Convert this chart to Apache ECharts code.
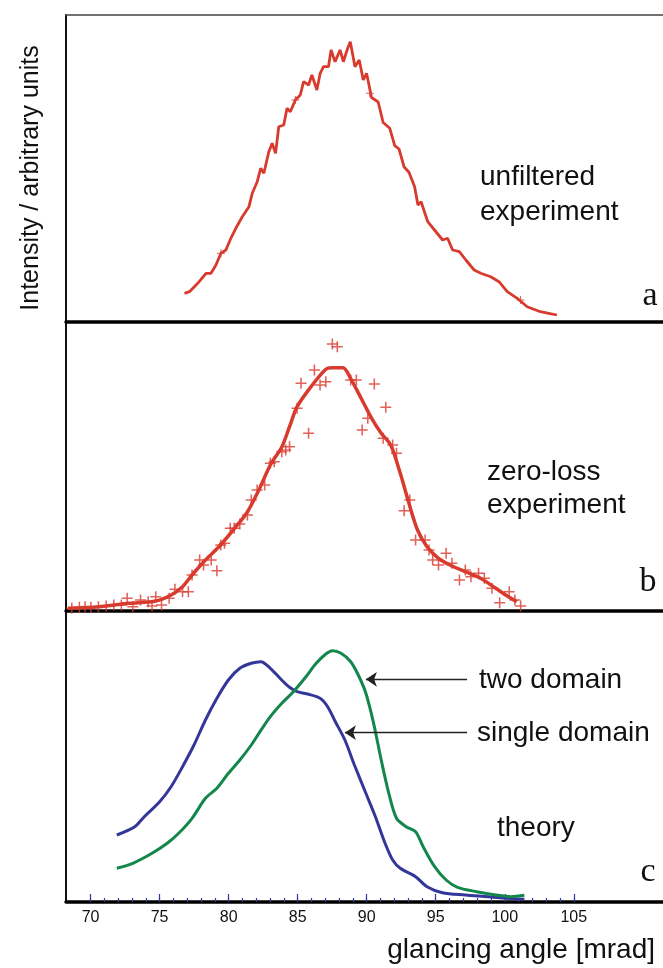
<!DOCTYPE html>
<html>
<head>
<meta charset="utf-8">
<script src="https://cdn.jsdelivr.net/npm/echarts@6/dist/echarts.min.js"></script>
<style>
html,body{margin:0;padding:0;background:#fff;}
#chart{width:663px;height:968px;}
</style>
</head>
<body>
<div id="chart"></div>
<script>
//面板a 未滤波实验
var aAngle = [76.80,77.16,77.76,78.36,78.72,79.08,79.44,79.80,80.16,80.52,80.99,81.47,81.71,82.07,82.32,82.55,82.91,83.15,83.40,83.63,83.99,84.23,84.47,84.83,85.19,85.43,85.79,86.03,86.39,86.63,86.87,87.23,87.42,87.71,88.07,88.31,88.62,88.81,89.15,89.46,89.75,89.99,90.35,90.83,91.19,91.67,92.03,92.34,92.70,93.06,93.47,93.71,93.94,94.42,94.91,95.50,95.86,96.22,96.71,97.18,97.78,98.26,98.98,99.58,100.18,100.90,101.62,102.58,103.18,103.78];
var aIntensity = [28.7,30.3,38.7,48.7,48.7,57,68.7,72,83.7,93.7,105.3,115.3,128.7,140.3,153.7,148.7,170.3,178.7,168.7,195.3,197,213.7,210.3,222,227,240.3,237,247,232,248.7,255.3,255.3,272,260.3,272,260.3,273.7,280.3,255.3,262,242,248.7,224.5,220,199.5,193.7,176.3,173,155.3,149.7,135.3,117,120.3,100.3,92,82,83.7,72,70.3,62,52,48.7,45.3,40.3,30.3,23.7,15.3,10.3,8.7,7];
var aMarkAngle = [79.44,84.83,90.23,101.14];
var aMarkIntensity = [68.7,222,228.7,22];
//面板b 零损失实验
var bLineAngle = [68.36,70.58,72.78,74.73,75.83,76.66,77.35,78.32,79.42,80.53,81.37,82.19,83.02,83.86,84.41,84.96,86.06,87.04,87.45,88.28,88.83,89.66,90.36,91.05,91.74,92.43,92.99,93.68,94.37,95.20,96.03,97.14,98.24,99.35,100.18,100.87];
var bLineIntensity = [2.7,4.3,7.7,10,16,24.3,36,51,66,84.3,99.3,121,146,164.3,184.3,204.3,226,241.7,243.3,243.3,232.7,211,192.7,177.7,166,137.7,111,81,64.3,52.7,46,39.3,32.7,22.7,15,9.3];
var bPointAngle = [68.64,69.19,69.60,70.02,70.57,71.13,71.68,72.23,72.65,73.06,73.62,74.17,74.45,74.72,75.14,75.69,76.11,76.66,77.08,77.35,77.90,78.18,78.74,79.15,79.43,79.70,80.12,80.40,80.81,81.36,81.64,82.06,82.61,83.02,83.30,83.85,84.13,84.41,84.96,85.24,85.79,86.21,86.62,87.04,87.51,87.87,88.84,89.25,89.67,90.08,90.55,91.19,91.38,91.88,92.16,92.71,93.12,93.54,94.23,94.51,94.78,95.20,95.75,96.17,96.72,97.14,97.55,98.10,98.52,99.07,99.63,100.32,100.73,101.15];
var bPointIntensity = [2.7,3.7,4.3,3.7,4.3,5,6,6,12.7,4.3,11,9.3,5,14.3,6,12.7,21.7,19.3,19.3,36,51,46,51,40.3,66,67.7,82.7,82.7,87,96,111,121,126,147.7,149.3,159.3,161,164.3,202.7,227.7,177.7,241,226,229.3,267,264.3,231,231,181,192.7,227,172.7,203.7,166,157.7,100.3,111,71,71,61,51,46,57.7,47.7,31,41,34.3,37.7,32.7,22.7,8.3,19.3,11,5];
//面板c 理论
var singleAngle = [71.90,73.20,73.89,75.00,75.83,76.66,77.49,78.32,79.15,79.98,80.81,81.64,82.33,83.02,83.72,84.41,84.96,85.79,86.62,87.17,87.73,88.42,89.11,89.94,90.63,91.33,91.88,92.43,93.54,94.37,95.48,97.14,98.80,100.18,101.42];
var singleIntensity = [67,75.3,85.3,100.3,115.3,135.3,157,182,203.7,222,233.7,238.7,240.3,233.7,223.7,214.7,210.3,207.7,203.7,195.3,180.3,162,137,108.7,85.3,58.7,42,33.7,25.3,15.3,9.3,7,5.3,3.7,2.7];
var twoAngle = [71.90,73.06,74.45,75.55,76.38,77.35,78.32,79.15,79.98,80.81,81.64,82.19,83.02,83.85,84.69,85.51,86.34,87.04,87.51,88.14,88.84,89.39,89.94,90.50,91.05,91.60,92.16,92.85,93.54,94.09,94.92,95.75,96.58,97.97,99.35,100.46,101.42];
var twoIntensity = [33.7,38.7,48.7,58.7,68.7,83.7,103.7,113.7,128.7,142,157,168.7,185.3,198.7,210.3,223.7,238.7,248,251.3,248.7,240.3,227,208.7,178.7,142,108.7,83.7,75.3,70.3,55.3,35.3,22,14.7,10.3,7,5.3,6.7];
//刻度
var majorTicks = [70,75,80,85,90,95,100,105];
var minorTicks = [70,71,72,73,74,75,76,77,78,79,80,81,82,83,84,85,86,87,88,89,90,91,92,93,94,95,96,97,98,99,100,101,102,103,104,105];

var RED = '#d83a2e', BLUE = '#34379a', GREEN = '#13874b';
var SANS = '"Liberation Sans", Arial, sans-serif';
var SERIF = '"Liberation Serif", "Times New Roman", serif';
var PLUS = 'path://M4.3,0H5.7V10H4.3Z M0,4.3H10V5.7H0Z';
var X_MIN = 68.22, X_MAX = 111.46;

function zip(xs, ys) {
    var out = [];
    for (var i = 0; i < xs.length; i++) {
        out.push([xs[i], ys[i]]);
    }
    return out;
}

function plainX(grid, pos, lineWidth, color) {
    return {
        type: 'value', gridIndex: grid, position: pos, min: X_MIN, max: X_MAX,
        axisLine: {show: true, onZero: false, lineStyle: {color: color, width: lineWidth}},
        axisTick: {show: false}, axisLabel: {show: false}, splitLine: {show: false}
    };
}

function plainY(grid, max) {
    return {
        type: 'value', gridIndex: grid, min: 0, max: max,
        axisLine: {show: true, lineStyle: {color: '#111', width: 2}},
        axisTick: {show: false}, axisLabel: {show: false}, splitLine: {show: false}
    };
}

function txt(x, y, s, size, font, align) {
    return {
        type: 'text', x: x, y: y,
        style: {text: s, fill: '#111', font: size + 'px ' + font, textAlign: align || 'left', textVerticalAlign: 'middle'}
    };
}

var chart = echarts.init(document.getElementById('chart'));
var option = {
    backgroundColor: '#fff',
    animation: false,
    grid: [
        {left: 66, right: -4, top: 15, height: 307},
        {left: 66, right: -4, top: 322, height: 289},
        {left: 66, right: -4, top: 611, height: 291}
    ],
    xAxis: [
        plainX(0, 'bottom', 3.5, '#000'),
        plainX(0, 'top', 1.5, '#444'),
        plainX(1, 'bottom', 3.5, '#000'),
        {
            type: 'value', gridIndex: 2, position: 'bottom', min: X_MIN, max: X_MAX,
            axisLine: {show: true, onZero: false, lineStyle: {color: '#000', width: 3.5}},
            axisTick: {show: true, inside: true, length: 8, customValues: majorTicks, lineStyle: {color: BLUE, width: 1.2}},
            axisLabel: {show: true, customValues: majorTicks, margin: 8, fontSize: 16, color: '#111', fontFamily: SANS},
            splitLine: {show: false}
        },
        {
            type: 'value', gridIndex: 2, position: 'bottom', min: X_MIN, max: X_MAX,
            axisLine: {show: false},
            axisTick: {show: true, inside: true, length: 4, customValues: minorTicks, lineStyle: {color: BLUE, width: 1.2}},
            axisLabel: {show: false}, splitLine: {show: false}
        }
    ],
    yAxis: [plainY(0, 307), plainY(1, 289), plainY(2, 291)],
    series: [
        {
            name: 'unfiltered', type: 'line', xAxisIndex: 0, yAxisIndex: 0,
            data: zip(aAngle, aIntensity), showSymbol: false,
            lineStyle: {color: RED, width: 2.8}
        },
        {
            name: 'unfiltered marks', type: 'scatter', xAxisIndex: 0, yAxisIndex: 0,
            data: zip(aMarkAngle, aMarkIntensity), symbol: PLUS, symbolSize: 8,
            itemStyle: {color: RED}
        },
        {
            name: 'zero-loss fit', type: 'line', xAxisIndex: 2, yAxisIndex: 1,
            data: zip(bLineAngle, bLineIntensity), showSymbol: false, smooth: 0.3,
            lineStyle: {color: RED, width: 3.5}
        },
        {
            name: 'zero-loss', type: 'scatter', xAxisIndex: 2, yAxisIndex: 1,
            data: zip(bPointAngle, bPointIntensity), symbol: PLUS, symbolSize: 11,
            itemStyle: {color: RED}
        },
        {
            name: 'single domain', type: 'line', xAxisIndex: 3, yAxisIndex: 2,
            data: zip(singleAngle, singleIntensity), showSymbol: false, smooth: 0.3,
            lineStyle: {color: BLUE, width: 3},
            markLine: {
                silent: true, symbol: ['none', 'arrow'], symbolSize: 11,
                label: {show: false},
                lineStyle: {color: '#222', width: 1.3, type: 'solid'},
                data: [[{coord: [97.27, 169.3]}, {coord: [88.42, 169.3]}]]
            }
        },
        {
            name: 'two domain', type: 'line', xAxisIndex: 3, yAxisIndex: 2,
            data: zip(twoAngle, twoIntensity), showSymbol: false, smooth: 0.3,
            lineStyle: {color: GREEN, width: 3},
            markLine: {
                silent: true, symbol: ['none', 'arrow'], symbolSize: 11,
                label: {show: false},
                lineStyle: {color: '#222', width: 1.3, type: 'solid'},
                data: [[{coord: [97.27, 222.7]}, {coord: [89.94, 222.7]}]]
            }
        }
    ],
    graphic: [
        {
            type: 'text', x: 31, y: 178, rotation: Math.PI / 2,
            style: {text: 'Intensity / arbitrary units', fill: '#111', font: '25px ' + SANS, textAlign: 'center', textVerticalAlign: 'middle'}
        },
        txt(655, 950, 'glancing angle [mrad]', 28, SANS, 'right'),
        txt(480, 177, 'unfiltered', 28, SANS),
        txt(480, 212, 'experiment', 28, SANS),
        txt(487, 472, 'zero-loss', 28, SANS),
        txt(487, 505, 'experiment', 28, SANS),
        txt(479, 680, 'two domain', 28, SANS),
        txt(477, 733, 'single domain', 28, SANS),
        txt(497, 828, 'theory', 28, SANS),
        txt(650, 296, 'a', 34, SERIF, 'center'),
        txt(648, 582, 'b', 34, SERIF, 'center'),
        txt(648, 872, 'c', 34, SERIF, 'center')
    ]
};
chart.setOption(option);
</script>
</body>
</html>
